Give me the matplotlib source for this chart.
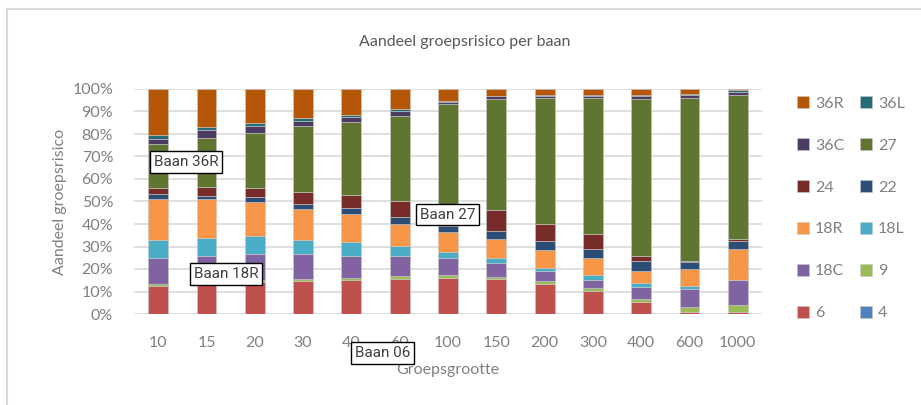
import numpy as np
import matplotlib
matplotlib.use("Agg")
import matplotlib.pyplot as plt
from matplotlib.patches import Rectangle

# groepsgroottes (x-as)
groups = ["10", "15", "20", "30", "40", "60", "100", "150", "200", "300", "400", "600", "1000"]

# aandeel per baan in %, van onder naar boven gestapeld
baan_4 = [0, 0, 0, 0, 0, 0, 0, 0, 0, 0, 0, 0, 0]
baan_6 = [12.4, 13.3, 14.2, 14.8, 15.3, 15.7, 16.1, 15.4, 13.5, 10.4, 5.2, 1.0, 0.7]
baan_9 = [0.9, 0.7, 0.9, 0.7, 0.9, 1.2, 1.2, 1.0, 1.2, 1.2, 1.5, 2.1, 3.1]
baan_18C = [11.4, 11.9, 11.4, 11.1, 9.8, 9.0, 7.4, 6.1, 4.3, 3.7, 5.2, 7.9, 11.3]
baan_18L = [8.4, 8.1, 8.1, 6.5, 5.9, 4.4, 3.0, 2.2, 1.3, 1.9, 1.8, 1.3, 0.1]
baan_18R = [18.2, 17.0, 15.0, 13.5, 12.6, 9.9, 8.6, 8.6, 8.1, 7.6, 5.3, 7.6, 13.5]
baan_22 = [1.9, 1.6, 2.2, 2.5, 2.7, 2.7, 3.0, 3.7, 4.1, 4.0, 4.4, 3.3, 3.9]
baan_24 = [3.0, 3.9, 4.4, 5.3, 5.6, 7.1, 8.0, 9.2, 7.7, 6.7, 2.2, 0.3, 0.6]
baan_27 = [19.3, 21.9, 24.4, 29.0, 32.4, 38.2, 45.9, 49.3, 55.7, 60.6, 69.9, 72.7, 64.1]
baan_36C = [2.5, 3.3, 3.0, 2.4, 2.5, 2.1, 1.0, 1.2, 1.0, 1.0, 1.2, 1.0, 1.2]
baan_36L = [1.5, 1.2, 1.5, 1.3, 0.9, 0.6, 0.3, 0.3, 0.3, 0.3, 0.6, 0.6, 0.9]
baan_36R = [20.4, 17.0, 14.8, 12.7, 11.4, 9.0, 5.5, 3.0, 2.7, 2.7, 2.7, 2.2, 0.6]

series = [
    ("4", baan_4, "#4F81BD"),
    ("6", baan_6, "#C0504D"),
    ("9", baan_9, "#9BBB59"),
    ("18C", baan_18C, "#8064A2"),
    ("18L", baan_18L, "#4BACC6"),
    ("18R", baan_18R, "#F79646"),
    ("22", baan_22, "#2C4D75"),
    ("24", baan_24, "#772C2A"),
    ("27", baan_27, "#5F7530"),
    ("36C", baan_36C, "#4D3B62"),
    ("36L", baan_36L, "#276A78"),
    ("36R", baan_36R, "#B65708"),
]

font = "Lato"
txt_color = "#808080"

fig = plt.figure(figsize=(9.21, 4.05), dpi=100)
fig.patches.append(Rectangle((7 / 921, -0.1), 1.2, (405 - 9) / 405 + 0.1,
                             transform=fig.transFigure, fill=False,
                             edgecolor="#d9d9d9", linewidth=1.5))

ax = fig.add_axes([134 / 921, (405 - 314) / 405, 628 / 921, 225 / 405])

x = np.arange(len(groups))
bottom = np.zeros(len(groups))
handles = {}
for name, vals, col in series:
    v = np.array(vals, dtype=float)
    b = ax.bar(x, v, 0.41, bottom=bottom, color=col, edgecolor="#c8c8c8",
               linewidth=0.4, zorder=3)
    handles[name] = b
    bottom += v

ax.set_xlim(-0.5, len(groups) - 0.5)
ax.set_ylim(0, 100)
ax.set_yticks(np.arange(0, 101, 10))
ax.set_yticklabels([f"{t}%" for t in range(0, 101, 10)])
ax.set_xticks(x)
ax.set_xticklabels(groups)
ax.yaxis.grid(True, color="#d9d9d9", linewidth=1.2, zorder=0)
ax.set_axisbelow(True)
for s in ax.spines.values():
    s.set_visible(False)
ax.tick_params(length=0, labelsize=11.5, labelcolor=txt_color)
ax.tick_params(axis="y", pad=15)
ax.tick_params(axis="x", pad=16)
for lab in ax.get_xticklabels() + ax.get_yticklabels():
    lab.set_fontfamily(font)

ax.set_ylabel("Aandeel groepsrisico", fontsize=11.5, color=txt_color,
              family=font, labelpad=4)
ax.set_xlabel("Groepsgrootte", fontsize=11.5, color=txt_color,
              family=font, labelpad=9)
fig.text(465 / 921, 1 - 42 / 405, "Aandeel groepsrisico per baan", ha="center",
         va="center", fontsize=11.5, color="#595959", family=font)

# legenda: rij voor rij 36R 36L / 36C 27 / ...
order = ["36R", "36C", "24", "18R", "18C", "6", "36L", "27", "22", "18L", "9", "4"]
leg = fig.legend([handles[n] for n in order], order, ncol=2, loc="upper left",
                 bbox_to_anchor=(783 / 921, 1 - 82 / 405), frameon=False,
                 prop={"family": font, "size": 11.5},
                 labelcolor=txt_color, handlelength=0.75, handleheight=0.75,
                 handletextpad=0.35, labelspacing=1.72, columnspacing=1.0)

box = dict(boxstyle="square,pad=0.25", facecolor="white", edgecolor="black",
           linewidth=1.0)
ann = [("Baan 36R", 0.58, 67.6), ("Baan 18R", 1.41, 17.8),
       ("Baan 27", 5.99, 44.2), ("Baan 06", 4.64, -17.3)]
for t, ax_x, ax_y in ann:
    ax.text(ax_x, ax_y, t, ha="center", va="center", fontsize=11, color="#404040",
            family="Roboto", bbox=box, zorder=5, clip_on=False)

fig.savefig("out.png", dpi=100)
